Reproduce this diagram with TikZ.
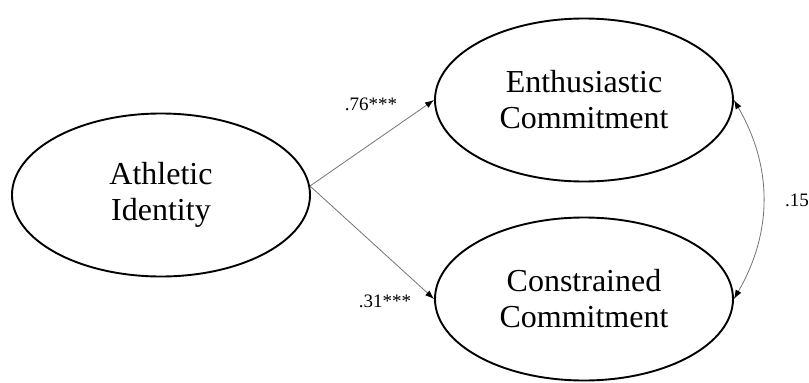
\documentclass[tikz,border=0pt]{standalone}
\usepackage{fontspec}
\setmainfont{Liberation Serif}
\usetikzlibrary{shapes.geometric,arrows.meta}

\begin{document}
\begin{tikzpicture}[x=1pt,y=-1pt,
  latent/.style={ellipse,draw=black,line width=1.9pt,minimum width=298pt,
    minimum height=163pt,inner sep=0pt,align=center,
    font=\fontsize{32}{36}\selectfont},
  tip/.tip={Latex[length=9pt,width=6.5pt,color=black]},
  path/.style={draw=black!55,line width=0.8pt,-tip},
  coef/.style={font=\fontsize{19}{21}\selectfont,inner sep=0pt}]
  \useasboundingbox (0,0) rectangle (809,383);

  % latent variables
  \node[latent] (ai) at (161,195) {Athletic\\Identity};
  \node[latent] (ec) at (584,100) {Enthusiastic\\Commitment};
  \node[latent] (cc) at (584,299) {Constrained\\Commitment};

  % structural paths
  \coordinate (src) at (310,186);
  \draw[path] (src) -- (ec.west);
  \draw[path] (src) -- (cc.west);

  % residual covariance
  \draw[draw=black!55,line width=0.8pt,tip-tip]
    (ec.east) to[bend left=30] (cc.east);

  % coefficients
  \node[coef] (l1) at (371,104) {.76***};
  \node[coef] (l2) at (385,301) {.31***};
  \node[coef,anchor=west] (l3) at (785,200) {.15};
\end{tikzpicture}
\end{document}
